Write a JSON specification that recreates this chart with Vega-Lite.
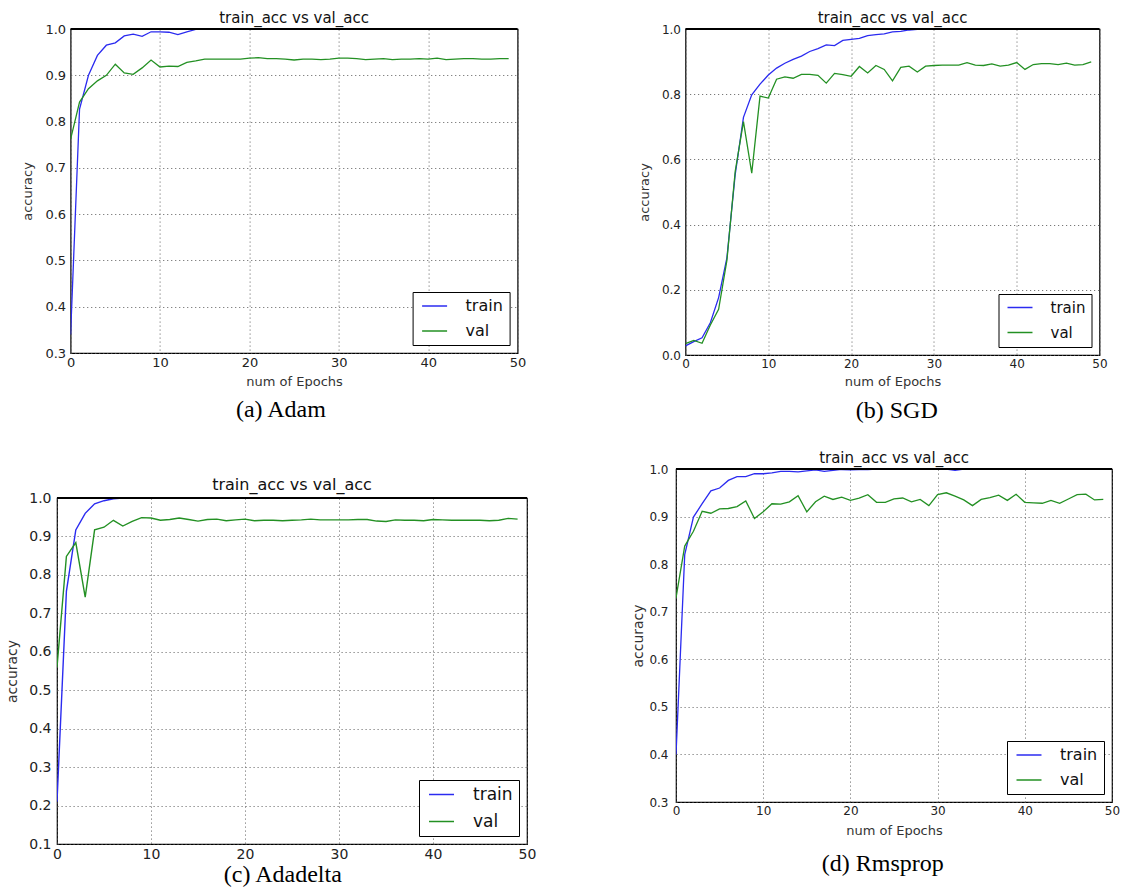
{
"$schema": "https://vega.github.io/schema/vega-lite/v6.json",
"padding": {"left": 5, "top": 10, "right": 0, "bottom": 0},
"background": "white",
"datasets": {
"acc": [
{"p":"a","s":"train","e":0,"v":0.34},{"p":"a","s":"train","e":1,"v":0.827},{"p":"a","s":"train","e":2,"v":0.9},{"p":"a","s":"train","e":3,"v":0.943},{"p":"a","s":"train","e":4,"v":0.965},{"p":"a","s":"train","e":5,"v":0.97},{"p":"a","s":"train","e":6,"v":0.985},{"p":"a","s":"train","e":7,"v":0.989},{"p":"a","s":"train","e":8,"v":0.984},{"p":"a","s":"train","e":9,"v":0.994},{"p":"a","s":"train","e":10,"v":0.994},{"p":"a","s":"train","e":11,"v":0.993},{"p":"a","s":"train","e":12,"v":0.988},{"p":"a","s":"train","e":13,"v":0.994},{"p":"a","s":"train","e":14,"v":0.999},{"p":"a","s":"train","e":15,"v":1},{"p":"a","s":"train","e":16,"v":1},{"p":"a","s":"train","e":17,"v":1},{"p":"a","s":"train","e":18,"v":1},{"p":"a","s":"train","e":19,"v":1},{"p":"a","s":"train","e":20,"v":1},{"p":"a","s":"train","e":21,"v":1},{"p":"a","s":"train","e":22,"v":1},{"p":"a","s":"train","e":23,"v":1},{"p":"a","s":"train","e":24,"v":1},{"p":"a","s":"train","e":25,"v":1},{"p":"a","s":"train","e":26,"v":1},{"p":"a","s":"train","e":27,"v":1},{"p":"a","s":"train","e":28,"v":1},{"p":"a","s":"train","e":29,"v":1},{"p":"a","s":"train","e":30,"v":1},{"p":"a","s":"train","e":31,"v":1},{"p":"a","s":"train","e":32,"v":1},{"p":"a","s":"train","e":33,"v":1},{"p":"a","s":"train","e":34,"v":1},{"p":"a","s":"train","e":35,"v":1},{"p":"a","s":"train","e":36,"v":1},{"p":"a","s":"train","e":37,"v":1},{"p":"a","s":"train","e":38,"v":1},{"p":"a","s":"train","e":39,"v":1},{"p":"a","s":"train","e":40,"v":1},{"p":"a","s":"train","e":41,"v":1},{"p":"a","s":"train","e":42,"v":1},{"p":"a","s":"train","e":43,"v":1},{"p":"a","s":"train","e":44,"v":1},{"p":"a","s":"train","e":45,"v":1},{"p":"a","s":"train","e":46,"v":1},{"p":"a","s":"train","e":47,"v":1},{"p":"a","s":"train","e":48,"v":1},{"p":"a","s":"train","e":49,"v":1},
{"p":"a","s":"val","e":0,"v":0.762},{"p":"a","s":"val","e":1,"v":0.842},{"p":"a","s":"val","e":2,"v":0.871},{"p":"a","s":"val","e":3,"v":0.888},{"p":"a","s":"val","e":4,"v":0.9},{"p":"a","s":"val","e":5,"v":0.924},{"p":"a","s":"val","e":6,"v":0.905},{"p":"a","s":"val","e":7,"v":0.902},{"p":"a","s":"val","e":8,"v":0.916},{"p":"a","s":"val","e":9,"v":0.933},{"p":"a","s":"val","e":10,"v":0.918},{"p":"a","s":"val","e":11,"v":0.92},{"p":"a","s":"val","e":12,"v":0.919},{"p":"a","s":"val","e":13,"v":0.928},{"p":"a","s":"val","e":14,"v":0.931},{"p":"a","s":"val","e":15,"v":0.935},{"p":"a","s":"val","e":16,"v":0.935},{"p":"a","s":"val","e":17,"v":0.935},{"p":"a","s":"val","e":18,"v":0.935},{"p":"a","s":"val","e":19,"v":0.935},{"p":"a","s":"val","e":20,"v":0.937},{"p":"a","s":"val","e":21,"v":0.938},{"p":"a","s":"val","e":22,"v":0.936},{"p":"a","s":"val","e":23,"v":0.936},{"p":"a","s":"val","e":24,"v":0.935},{"p":"a","s":"val","e":25,"v":0.933},{"p":"a","s":"val","e":26,"v":0.935},{"p":"a","s":"val","e":27,"v":0.935},{"p":"a","s":"val","e":28,"v":0.934},{"p":"a","s":"val","e":29,"v":0.935},{"p":"a","s":"val","e":30,"v":0.937},{"p":"a","s":"val","e":31,"v":0.937},{"p":"a","s":"val","e":32,"v":0.936},{"p":"a","s":"val","e":33,"v":0.934},{"p":"a","s":"val","e":34,"v":0.935},{"p":"a","s":"val","e":35,"v":0.936},{"p":"a","s":"val","e":36,"v":0.934},{"p":"a","s":"val","e":37,"v":0.935},{"p":"a","s":"val","e":38,"v":0.935},{"p":"a","s":"val","e":39,"v":0.936},{"p":"a","s":"val","e":40,"v":0.935},{"p":"a","s":"val","e":41,"v":0.937},{"p":"a","s":"val","e":42,"v":0.934},{"p":"a","s":"val","e":43,"v":0.935},{"p":"a","s":"val","e":44,"v":0.936},{"p":"a","s":"val","e":45,"v":0.936},{"p":"a","s":"val","e":46,"v":0.935},{"p":"a","s":"val","e":47,"v":0.935},{"p":"a","s":"val","e":48,"v":0.936},{"p":"a","s":"val","e":49,"v":0.936},
{"p":"b","s":"train","e":0,"v":0.028},{"p":"b","s":"train","e":1,"v":0.041},{"p":"b","s":"train","e":2,"v":0.053},{"p":"b","s":"train","e":3,"v":0.099},{"p":"b","s":"train","e":4,"v":0.176},{"p":"b","s":"train","e":5,"v":0.298},{"p":"b","s":"train","e":6,"v":0.553},{"p":"b","s":"train","e":7,"v":0.729},{"p":"b","s":"train","e":8,"v":0.798},{"p":"b","s":"train","e":9,"v":0.831},{"p":"b","s":"train","e":10,"v":0.859},{"p":"b","s":"train","e":11,"v":0.88},{"p":"b","s":"train","e":12,"v":0.895},{"p":"b","s":"train","e":13,"v":0.907},{"p":"b","s":"train","e":14,"v":0.917},{"p":"b","s":"train","e":15,"v":0.931},{"p":"b","s":"train","e":16,"v":0.94},{"p":"b","s":"train","e":17,"v":0.951},{"p":"b","s":"train","e":18,"v":0.949},{"p":"b","s":"train","e":19,"v":0.965},{"p":"b","s":"train","e":20,"v":0.968},{"p":"b","s":"train","e":21,"v":0.971},{"p":"b","s":"train","e":22,"v":0.98},{"p":"b","s":"train","e":23,"v":0.983},{"p":"b","s":"train","e":24,"v":0.985},{"p":"b","s":"train","e":25,"v":0.991},{"p":"b","s":"train","e":26,"v":0.993},{"p":"b","s":"train","e":27,"v":0.997},{"p":"b","s":"train","e":28,"v":0.999},{"p":"b","s":"train","e":29,"v":1},{"p":"b","s":"train","e":30,"v":1},{"p":"b","s":"train","e":31,"v":1},{"p":"b","s":"train","e":32,"v":1},{"p":"b","s":"train","e":33,"v":1},{"p":"b","s":"train","e":34,"v":1},{"p":"b","s":"train","e":35,"v":1},{"p":"b","s":"train","e":36,"v":1},{"p":"b","s":"train","e":37,"v":1},{"p":"b","s":"train","e":38,"v":1},{"p":"b","s":"train","e":39,"v":1},{"p":"b","s":"train","e":40,"v":1},{"p":"b","s":"train","e":41,"v":1},{"p":"b","s":"train","e":42,"v":1},{"p":"b","s":"train","e":43,"v":1},{"p":"b","s":"train","e":44,"v":1},{"p":"b","s":"train","e":45,"v":1},{"p":"b","s":"train","e":46,"v":1},{"p":"b","s":"train","e":47,"v":1},{"p":"b","s":"train","e":48,"v":1},{"p":"b","s":"train","e":49,"v":1},
{"p":"b","s":"val","e":0,"v":0.035},{"p":"b","s":"val","e":1,"v":0.045},{"p":"b","s":"val","e":2,"v":0.036},{"p":"b","s":"val","e":3,"v":0.092},{"p":"b","s":"val","e":4,"v":0.14},{"p":"b","s":"val","e":5,"v":0.29},{"p":"b","s":"val","e":6,"v":0.563},{"p":"b","s":"val","e":7,"v":0.716},{"p":"b","s":"val","e":8,"v":0.558},{"p":"b","s":"val","e":9,"v":0.794},{"p":"b","s":"val","e":10,"v":0.788},{"p":"b","s":"val","e":11,"v":0.846},{"p":"b","s":"val","e":12,"v":0.853},{"p":"b","s":"val","e":13,"v":0.849},{"p":"b","s":"val","e":14,"v":0.861},{"p":"b","s":"val","e":15,"v":0.861},{"p":"b","s":"val","e":16,"v":0.858},{"p":"b","s":"val","e":17,"v":0.834},{"p":"b","s":"val","e":18,"v":0.864},{"p":"b","s":"val","e":19,"v":0.86},{"p":"b","s":"val","e":20,"v":0.855},{"p":"b","s":"val","e":21,"v":0.885},{"p":"b","s":"val","e":22,"v":0.865},{"p":"b","s":"val","e":23,"v":0.888},{"p":"b","s":"val","e":24,"v":0.876},{"p":"b","s":"val","e":25,"v":0.841},{"p":"b","s":"val","e":26,"v":0.882},{"p":"b","s":"val","e":27,"v":0.886},{"p":"b","s":"val","e":28,"v":0.868},{"p":"b","s":"val","e":29,"v":0.886},{"p":"b","s":"val","e":30,"v":0.888},{"p":"b","s":"val","e":31,"v":0.889},{"p":"b","s":"val","e":32,"v":0.889},{"p":"b","s":"val","e":33,"v":0.889},{"p":"b","s":"val","e":34,"v":0.897},{"p":"b","s":"val","e":35,"v":0.889},{"p":"b","s":"val","e":36,"v":0.888},{"p":"b","s":"val","e":37,"v":0.893},{"p":"b","s":"val","e":38,"v":0.886},{"p":"b","s":"val","e":39,"v":0.889},{"p":"b","s":"val","e":40,"v":0.897},{"p":"b","s":"val","e":41,"v":0.876},{"p":"b","s":"val","e":42,"v":0.891},{"p":"b","s":"val","e":43,"v":0.894},{"p":"b","s":"val","e":44,"v":0.894},{"p":"b","s":"val","e":45,"v":0.891},{"p":"b","s":"val","e":46,"v":0.895},{"p":"b","s":"val","e":47,"v":0.889},{"p":"b","s":"val","e":48,"v":0.891},{"p":"b","s":"val","e":49,"v":0.899},
{"p":"c","s":"train","e":0,"v":0.21},{"p":"c","s":"train","e":1,"v":0.757},{"p":"c","s":"train","e":2,"v":0.917},{"p":"c","s":"train","e":3,"v":0.96},{"p":"c","s":"train","e":4,"v":0.985},{"p":"c","s":"train","e":5,"v":0.993},{"p":"c","s":"train","e":6,"v":0.998},{"p":"c","s":"train","e":7,"v":1},{"p":"c","s":"train","e":8,"v":1},{"p":"c","s":"train","e":9,"v":1},{"p":"c","s":"train","e":10,"v":1},{"p":"c","s":"train","e":11,"v":1},{"p":"c","s":"train","e":12,"v":1},{"p":"c","s":"train","e":13,"v":1},{"p":"c","s":"train","e":14,"v":1},{"p":"c","s":"train","e":15,"v":1},{"p":"c","s":"train","e":16,"v":1},{"p":"c","s":"train","e":17,"v":1},{"p":"c","s":"train","e":18,"v":1},{"p":"c","s":"train","e":19,"v":1},{"p":"c","s":"train","e":20,"v":1},{"p":"c","s":"train","e":21,"v":1},{"p":"c","s":"train","e":22,"v":1},{"p":"c","s":"train","e":23,"v":1},{"p":"c","s":"train","e":24,"v":1},{"p":"c","s":"train","e":25,"v":1},{"p":"c","s":"train","e":26,"v":1},{"p":"c","s":"train","e":27,"v":1},{"p":"c","s":"train","e":28,"v":1},{"p":"c","s":"train","e":29,"v":1},{"p":"c","s":"train","e":30,"v":1},{"p":"c","s":"train","e":31,"v":1},{"p":"c","s":"train","e":32,"v":1},{"p":"c","s":"train","e":33,"v":1},{"p":"c","s":"train","e":34,"v":1},{"p":"c","s":"train","e":35,"v":1},{"p":"c","s":"train","e":36,"v":1},{"p":"c","s":"train","e":37,"v":1},{"p":"c","s":"train","e":38,"v":1},{"p":"c","s":"train","e":39,"v":1},{"p":"c","s":"train","e":40,"v":1},{"p":"c","s":"train","e":41,"v":1},{"p":"c","s":"train","e":42,"v":1},{"p":"c","s":"train","e":43,"v":1},{"p":"c","s":"train","e":44,"v":1},{"p":"c","s":"train","e":45,"v":1},{"p":"c","s":"train","e":46,"v":1},{"p":"c","s":"train","e":47,"v":1},{"p":"c","s":"train","e":48,"v":1},{"p":"c","s":"train","e":49,"v":1},
{"p":"c","s":"val","e":0,"v":0.56},{"p":"c","s":"val","e":1,"v":0.848},{"p":"c","s":"val","e":2,"v":0.884},{"p":"c","s":"val","e":3,"v":0.742},{"p":"c","s":"val","e":4,"v":0.917},{"p":"c","s":"val","e":5,"v":0.924},{"p":"c","s":"val","e":6,"v":0.942},{"p":"c","s":"val","e":7,"v":0.927},{"p":"c","s":"val","e":8,"v":0.939},{"p":"c","s":"val","e":9,"v":0.949},{"p":"c","s":"val","e":10,"v":0.948},{"p":"c","s":"val","e":11,"v":0.942},{"p":"c","s":"val","e":12,"v":0.944},{"p":"c","s":"val","e":13,"v":0.948},{"p":"c","s":"val","e":14,"v":0.944},{"p":"c","s":"val","e":15,"v":0.94},{"p":"c","s":"val","e":16,"v":0.944},{"p":"c","s":"val","e":17,"v":0.945},{"p":"c","s":"val","e":18,"v":0.941},{"p":"c","s":"val","e":19,"v":0.943},{"p":"c","s":"val","e":20,"v":0.945},{"p":"c","s":"val","e":21,"v":0.941},{"p":"c","s":"val","e":22,"v":0.942},{"p":"c","s":"val","e":23,"v":0.942},{"p":"c","s":"val","e":24,"v":0.941},{"p":"c","s":"val","e":25,"v":0.942},{"p":"c","s":"val","e":26,"v":0.943},{"p":"c","s":"val","e":27,"v":0.945},{"p":"c","s":"val","e":28,"v":0.943},{"p":"c","s":"val","e":29,"v":0.943},{"p":"c","s":"val","e":30,"v":0.943},{"p":"c","s":"val","e":31,"v":0.943},{"p":"c","s":"val","e":32,"v":0.944},{"p":"c","s":"val","e":33,"v":0.944},{"p":"c","s":"val","e":34,"v":0.94},{"p":"c","s":"val","e":35,"v":0.939},{"p":"c","s":"val","e":36,"v":0.943},{"p":"c","s":"val","e":37,"v":0.942},{"p":"c","s":"val","e":38,"v":0.942},{"p":"c","s":"val","e":39,"v":0.941},{"p":"c","s":"val","e":40,"v":0.944},{"p":"c","s":"val","e":41,"v":0.943},{"p":"c","s":"val","e":42,"v":0.942},{"p":"c","s":"val","e":43,"v":0.942},{"p":"c","s":"val","e":44,"v":0.942},{"p":"c","s":"val","e":45,"v":0.942},{"p":"c","s":"val","e":46,"v":0.941},{"p":"c","s":"val","e":47,"v":0.942},{"p":"c","s":"val","e":48,"v":0.947},{"p":"c","s":"val","e":49,"v":0.945},
{"p":"d","s":"train","e":0,"v":0.4},{"p":"d","s":"train","e":1,"v":0.82},{"p":"d","s":"train","e":2,"v":0.899},{"p":"d","s":"train","e":3,"v":0.927},{"p":"d","s":"train","e":4,"v":0.954},{"p":"d","s":"train","e":5,"v":0.96},{"p":"d","s":"train","e":6,"v":0.976},{"p":"d","s":"train","e":7,"v":0.984},{"p":"d","s":"train","e":8,"v":0.984},{"p":"d","s":"train","e":9,"v":0.99},{"p":"d","s":"train","e":10,"v":0.99},{"p":"d","s":"train","e":11,"v":0.992},{"p":"d","s":"train","e":12,"v":0.995},{"p":"d","s":"train","e":13,"v":0.995},{"p":"d","s":"train","e":14,"v":0.994},{"p":"d","s":"train","e":15,"v":0.996},{"p":"d","s":"train","e":16,"v":0.998},{"p":"d","s":"train","e":17,"v":0.995},{"p":"d","s":"train","e":18,"v":0.997},{"p":"d","s":"train","e":19,"v":0.999},{"p":"d","s":"train","e":20,"v":0.998},{"p":"d","s":"train","e":21,"v":0.999},{"p":"d","s":"train","e":22,"v":0.999},{"p":"d","s":"train","e":23,"v":1},{"p":"d","s":"train","e":24,"v":1},{"p":"d","s":"train","e":25,"v":1},{"p":"d","s":"train","e":26,"v":1},{"p":"d","s":"train","e":27,"v":1},{"p":"d","s":"train","e":28,"v":1},{"p":"d","s":"train","e":29,"v":1},{"p":"d","s":"train","e":30,"v":1},{"p":"d","s":"train","e":31,"v":1},{"p":"d","s":"train","e":32,"v":0.997},{"p":"d","s":"train","e":33,"v":1},{"p":"d","s":"train","e":34,"v":1},{"p":"d","s":"train","e":35,"v":1},{"p":"d","s":"train","e":36,"v":1},{"p":"d","s":"train","e":37,"v":1},{"p":"d","s":"train","e":38,"v":1},{"p":"d","s":"train","e":39,"v":1},{"p":"d","s":"train","e":40,"v":1},{"p":"d","s":"train","e":41,"v":1},{"p":"d","s":"train","e":42,"v":1},{"p":"d","s":"train","e":43,"v":1},{"p":"d","s":"train","e":44,"v":1},{"p":"d","s":"train","e":45,"v":1},{"p":"d","s":"train","e":46,"v":1},{"p":"d","s":"train","e":47,"v":1},{"p":"d","s":"train","e":48,"v":1},{"p":"d","s":"train","e":49,"v":1},
{"p":"d","s":"val","e":0,"v":0.729},{"p":"d","s":"val","e":1,"v":0.838},{"p":"d","s":"val","e":2,"v":0.869},{"p":"d","s":"val","e":3,"v":0.911},{"p":"d","s":"val","e":4,"v":0.907},{"p":"d","s":"val","e":5,"v":0.916},{"p":"d","s":"val","e":6,"v":0.917},{"p":"d","s":"val","e":7,"v":0.921},{"p":"d","s":"val","e":8,"v":0.933},{"p":"d","s":"val","e":9,"v":0.896},{"p":"d","s":"val","e":10,"v":0.91},{"p":"d","s":"val","e":11,"v":0.927},{"p":"d","s":"val","e":12,"v":0.926},{"p":"d","s":"val","e":13,"v":0.931},{"p":"d","s":"val","e":14,"v":0.944},{"p":"d","s":"val","e":15,"v":0.91},{"p":"d","s":"val","e":16,"v":0.931},{"p":"d","s":"val","e":17,"v":0.943},{"p":"d","s":"val","e":18,"v":0.936},{"p":"d","s":"val","e":19,"v":0.941},{"p":"d","s":"val","e":20,"v":0.934},{"p":"d","s":"val","e":21,"v":0.939},{"p":"d","s":"val","e":22,"v":0.946},{"p":"d","s":"val","e":23,"v":0.93},{"p":"d","s":"val","e":24,"v":0.93},{"p":"d","s":"val","e":25,"v":0.937},{"p":"d","s":"val","e":26,"v":0.939},{"p":"d","s":"val","e":27,"v":0.931},{"p":"d","s":"val","e":28,"v":0.936},{"p":"d","s":"val","e":29,"v":0.923},{"p":"d","s":"val","e":30,"v":0.946},{"p":"d","s":"val","e":31,"v":0.95},{"p":"d","s":"val","e":32,"v":0.943},{"p":"d","s":"val","e":33,"v":0.935},{"p":"d","s":"val","e":34,"v":0.923},{"p":"d","s":"val","e":35,"v":0.936},{"p":"d","s":"val","e":36,"v":0.94},{"p":"d","s":"val","e":37,"v":0.945},{"p":"d","s":"val","e":38,"v":0.934},{"p":"d","s":"val","e":39,"v":0.947},{"p":"d","s":"val","e":40,"v":0.93},{"p":"d","s":"val","e":41,"v":0.929},{"p":"d","s":"val","e":42,"v":0.928},{"p":"d","s":"val","e":43,"v":0.934},{"p":"d","s":"val","e":44,"v":0.928},{"p":"d","s":"val","e":45,"v":0.937},{"p":"d","s":"val","e":46,"v":0.946},{"p":"d","s":"val","e":47,"v":0.947},{"p":"d","s":"val","e":48,"v":0.935},{"p":"d","s":"val","e":49,"v":0.936}
],
"top": [{"y": 1}],
"none": []
},
"spacing": 94,
"resolve": {"scale": {"color": "independent"}, "legend": {"color": "independent"}},
"hconcat": [
{
"spacing": 54,
"resolve": {"scale": {"color": "independent"}, "legend": {"color": "independent"}},
"vconcat": [
{
"title": {"text": "(a) Adam", "orient": "bottom", "font": "Liberation Serif", "fontSize": 24, "fontWeight": "normal", "color": "black", "anchor": "middle", "offset": 9, "dx": 7},
"resolve": {"scale": {"color": "independent"}, "legend": {"color": "independent"}},
"bounds": "flush",
"spacing": 12.6,
"hconcat": [
{"width": 1, "height": 1, "data": {"name": "none"}, "mark": {"type": "point", "opacity": 0}, "view": {"stroke": null}},
{
"width": 447, "height": 324,
"title": {"text": "train_acc vs val_acc", "offset": -3},
"layer": [
{
"data": {"name": "acc"},
"transform": [{"filter": "datum.p === 'a'"}],
"mark": {"type": "line", "strokeWidth": 1.3, "clip": true},
"encoding": {
"x": {"field": "e", "type": "quantitative", "scale": {"domain": [0, 50], "nice": false}, "axis": {"values": [0, 10, 20, 30, 40, 50], "title": "num of Epochs", "labelFlush": false, "labelPadding": 3, "titlePadding": 6}},
"y": {"field": "v", "type": "quantitative", "scale": {"domain": [0.3, 1], "nice": false, "zero": false}, "axis": {"values": [0.3, 0.4, 0.5, 0.6, 0.7, 0.8, 0.9, 1.0], "tickCount": 12, "format": ".1f", "title": "accuracy", "labelPadding": 5, "titlePadding": 10}},
"color": {"field": "s", "type": "nominal", "scale": {"domain": ["train", "val"], "range": ["#2b2bf0", "#239023"]}, "legend": {"labelFontSize": 16}}
}
},
{"data": {"name": "top"}, "mark": {"type": "rule", "color": "black", "strokeWidth": 1.8}, "encoding": {"y": {"field": "y", "type": "quantitative"}}}
]
}
]
},
{
"title": {"text": "(c) Adadelta", "orient": "bottom", "font": "Liberation Serif", "fontSize": 24, "fontWeight": "normal", "color": "black", "anchor": "middle", "offset": 1, "dx": 12},
"resolve": {"scale": {"color": "independent"}, "legend": {"color": "independent"}},
"vconcat": [
{
"width": 470, "height": 346,
"title": {"text": "train_acc vs val_acc", "fontSize": 16, "offset": -2},
"layer": [
{
"data": {"name": "acc"},
"transform": [{"filter": "datum.p === 'c'"}],
"mark": {"type": "line", "strokeWidth": 1.4, "clip": true},
"encoding": {
"x": {"field": "e", "type": "quantitative", "scale": {"domain": [0, 50], "nice": false}, "axis": {"values": [0, 10, 20, 30, 40, 50], "title": null, "labelFlush": false, "labelPadding": 3, "labelFontSize": 14}},
"y": {"field": "v", "type": "quantitative", "scale": {"domain": [0.1, 1], "nice": false, "zero": false}, "axis": {"values": [0.1, 0.2, 0.3, 0.4, 0.5, 0.6, 0.7, 0.8, 0.9, 1.0], "tickCount": 12, "format": ".1f", "title": "accuracy", "labelPadding": 6, "titlePadding": 9, "labelFontSize": 14, "titleFontSize": 14, "labelOverlap": false}},
"color": {"field": "s", "type": "nominal", "scale": {"domain": ["train", "val"], "range": ["#2b2bf0", "#239023"]}, "legend": {"labelFontSize": 17}}
}
},
{"data": {"name": "top"}, "mark": {"type": "rule", "color": "black", "strokeWidth": 1.8}, "encoding": {"y": {"field": "y", "type": "quantitative"}}}
]
}
]
}
]
},
{
"spacing": 27,
"resolve": {"scale": {"color": "independent"}, "legend": {"color": "independent"}},
"vconcat": [
{
"title": {"text": "(b) SGD", "orient": "bottom", "font": "Liberation Serif", "fontSize": 24, "fontWeight": "normal", "color": "black", "anchor": "middle", "offset": 10, "dx": 24},
"resolve": {"scale": {"color": "independent"}, "legend": {"color": "independent"}},
"bounds": "flush",
"spacing": 8.5,
"hconcat": [
{"width": 1, "height": 1, "data": {"name": "none"}, "mark": {"type": "point", "opacity": 0}, "view": {"stroke": null}},
{
"width": 414, "height": 326,
"title": {"text": "train_acc vs val_acc", "offset": -3},
"layer": [
{
"data": {"name": "acc"},
"transform": [{"filter": "datum.p === 'b'"}],
"mark": {"type": "line", "strokeWidth": 1.3, "clip": true},
"encoding": {
"x": {"field": "e", "type": "quantitative", "scale": {"domain": [0, 50], "nice": false}, "axis": {"values": [0, 10, 20, 30, 40, 50], "title": "num of Epochs", "labelFlush": false, "labelPadding": 3, "titlePadding": 6, "labelFontSize": 12}},
"y": {"field": "v", "type": "quantitative", "scale": {"domain": [0, 1], "nice": false}, "axis": {"values": [0, 0.2, 0.4, 0.6, 0.8, 1.0], "tickCount": 12, "format": ".1f", "title": "accuracy", "labelPadding": 5, "titlePadding": 10, "labelFontSize": 12}},
"color": {"field": "s", "type": "nominal", "scale": {"domain": ["train", "val"], "range": ["#2b2bf0", "#239023"]}, "legend": {"labelFontSize": 15}}
}
},
{"data": {"name": "top"}, "mark": {"type": "rule", "color": "black", "strokeWidth": 1.8}, "encoding": {"y": {"field": "y", "type": "quantitative"}}}
]
}
]
},
{
"title": {"text": "(d) Rmsprop", "orient": "bottom", "font": "Liberation Serif", "fontSize": 24, "fontWeight": "normal", "color": "black", "anchor": "middle", "offset": 14, "dx": 7},
"resolve": {"scale": {"color": "independent"}, "legend": {"color": "independent"}},
"vconcat": [
{
"width": 436, "height": 333,
"title": {"text": "train_acc vs val_acc", "offset": -3},
"layer": [
{
"data": {"name": "acc"},
"transform": [{"filter": "datum.p === 'd'"}],
"mark": {"type": "line", "strokeWidth": 1.3, "clip": true},
"encoding": {
"x": {"field": "e", "type": "quantitative", "scale": {"domain": [0, 50], "nice": false}, "axis": {"values": [0, 10, 20, 30, 40, 50], "title": "num of Epochs", "labelFlush": false, "labelPadding": 3, "titlePadding": 8, "labelFontSize": 12}},
"y": {"field": "v", "type": "quantitative", "scale": {"domain": [0.3, 1], "nice": false, "zero": false}, "axis": {"values": [0.3, 0.4, 0.5, 0.6, 0.7, 0.8, 0.9, 1.0], "tickCount": 12, "format": ".1f", "title": "accuracy", "labelPadding": 8, "titlePadding": 3, "labelFontSize": 12, "titleFontSize": 14}},
"color": {"field": "s", "type": "nominal", "scale": {"domain": ["train", "val"], "range": ["#2b2bf0", "#239023"]}, "legend": {"labelFontSize": 16}}
}
},
{"data": {"name": "top"}, "mark": {"type": "rule", "color": "black", "strokeWidth": 1.8}, "encoding": {"y": {"field": "y", "type": "quantitative"}}}
]
}
]
}
]
}
],
"config": {
"font": "DejaVu Sans",
"view": {"stroke": "black", "strokeWidth": 1.2},
"axis": {"domain": false, "ticks": false, "grid": true, "gridColor": "#555555", "gridDash": [1.2, 2.8], "gridWidth": 0.8, "labelFont": "DejaVu Sans", "titleFont": "DejaVu Sans", "labelColor": "#222222", "titleColor": "#333333", "titleFontWeight": "normal", "labelFontSize": 13, "titleFontSize": 13},
"axisY": {"labelOverlap": false},
"title": {"font": "DejaVu Sans", "fontSize": 15, "fontWeight": "normal", "color": "#111111", "offset": 5},
"legend": {"title": null, "orient": "bottom-right", "offset": 8, "padding": 6, "strokeColor": "black", "fillColor": "white", "symbolType": "M-2,0L2,0", "symbolSize": 156, "symbolStrokeWidth": 1.5, "symbolOffset": 8, "labelFont": "DejaVu Sans", "labelColor": "#111111", "labelOffset": 23, "rowPadding": 9, "cornerRadius": 0}
}
}
